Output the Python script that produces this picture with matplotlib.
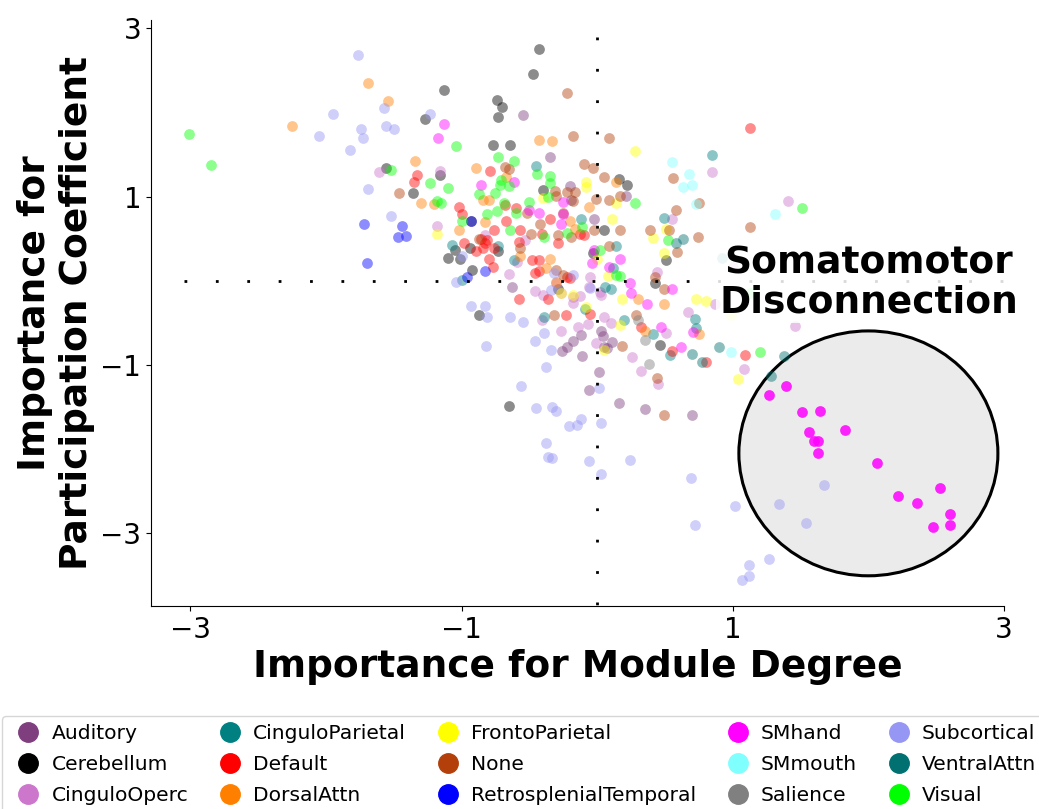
import matplotlib
matplotlib.use("Agg")
import matplotlib.pyplot as plt
import numpy as np
from matplotlib.lines import Line2D
from matplotlib.patches import Ellipse

# (module degree importance, participation coefficient importance) per node
AUDITORY = [(-0.55, 1.97), (-0.35, 1.47), (-0.20, 1.13), (-0.19, 0.96), (0.21, 1.01), (-0.02, 0.73),
            (-0.63, -0.07), (-0.26, -0.83), (-0.22, -0.79), (-0.18, -0.72), (-0.12, -0.64), (-0.11, -0.89),
            (0.03, -0.59), (0.04, -0.66), (0.05, -0.79), (0.01, -1.08), (-0.06, -1.30), (0.11, -0.73),
            (0.07, -0.80), (0.16, -1.45), (0.35, -1.52), (0.70, -1.60)]
CEREBELLUM = [(-0.43, 2.76), (-0.47, 2.46), (-1.13, 2.27), (-0.74, 2.15), (-0.70, 2.07), (-0.73, 1.95),
              (-1.27, 1.92), (-0.77, 1.61), (-0.64, 1.62), (-1.56, 1.34), (-1.16, 1.26), (-1.36, 1.05),
              (-0.40, 1.08), (0.16, 1.21), (0.22, 1.14), (-0.93, 0.71), (0.05, 0.60), (0.51, 0.25),
              (-1.05, 0.37), (-1.10, 0.27), (-1.01, 0.26), (-0.94, 0.39), (-0.92, 0.13), (-0.73, 0.36),
              (-0.29, -0.10), (-0.03, 0.33), (0.43, -0.03), (-0.87, -0.40), (-0.65, -1.49), (0.46, -0.76)]
CINGULO_OPERC = [(-1.61, 1.29), (-1.18, 0.65), (0.55, 0.74), (0.85, 1.29), (1.41, 0.95), (-0.65, 0.08),
                 (-0.59, 0.22), (-0.53, 0.48), (-0.46, -0.12), (-0.40, -0.17), (-0.30, -0.03), (-0.27, -0.15),
                 (-0.18, -0.19), (-0.13, -0.18), (-0.05, 0.04), (-0.06, -0.07), (0.02, -0.13), (0.03, -0.17),
                 (0.44, 0.11), (-0.41, -0.47), (-0.27, -0.60), (-0.14, -0.55), (-0.07, -0.51), (-0.18, -0.26),
                 (-0.01, -0.74), (0.05, -0.43), (0.10, -0.50), (0.26, -0.91), (0.32, -1.07), (0.45, -1.22),
                 (0.51, -0.62), (0.67, -0.37), (0.87, -0.28), (1.08, -1.05), (1.46, -0.54), (1.00, 0.17),
                 (-0.83, 0.54), (-1.16, 1.30)]
CINGULO_PARIETAL = [(-0.45, 1.36), (-0.12, 0.73), (0.49, 0.75), (0.85, 1.49), (-1.07, 0.43), (-0.73, 0.42),
                    (-0.61, 0.25), (0.06, -0.07), (0.10, -0.10), (0.14, 0.42), (0.12, 0.15), (-1.00, 0.01),
                    (-0.39, -0.43), (-0.09, -0.33), (0.20, -0.47), (0.41, -0.63), (0.54, -0.88), (0.72, -0.45),
                    (0.73, -0.56), (0.92, 0.27)]
DEFAULT = [(-1.33, 1.26), (-1.35, 1.18), (-0.79, 1.31), (-1.02, 0.88), (-1.00, 0.80), (-0.76, 0.60),
           (-0.67, 0.71), (-0.68, 0.90), (-0.60, 0.87), (-0.35, 0.73), (-0.13, 0.56), (-0.10, 0.55),
           (-0.98, 0.45), (-0.89, 0.36), (-0.86, 0.50), (-0.83, 0.45), (-0.81, 0.48), (-0.84, 0.39),
           (-0.80, 0.26), (-0.77, 0.17), (-0.76, 0.39), (-0.58, 0.46), (-0.48, 0.25), (-0.43, 0.25),
           (-0.46, 0.09), (-0.43, 0.12), (-0.58, -0.22), (-0.36, -0.21), (-0.22, 0.05), (-0.20, 0.03),
           (-0.57, 0.60), (-0.41, 0.56), (-0.29, 0.45), (-0.23, -0.41), (-0.05, -0.39), (0.32, -0.55),
           (0.55, -0.83), (0.80, -0.97), (1.09, -0.88), (1.13, 1.82)]
DORSAL_ATTN = [(-2.25, 1.84), (-1.69, 2.35), (-1.54, 2.14), (-1.34, 1.43), (-0.43, 1.67), (-0.33, 1.66),
               (-0.89, 1.34), (-0.67, 1.24), (-1.30, 0.92), (-1.20, 0.91), (-0.84, 0.96), (-0.80, 0.96),
               (-1.02, 0.61), (-0.83, 0.70), (-0.20, 0.71), (-0.16, 0.62), (-0.06, 0.88), (0.14, 1.18),
               (-0.57, 0.29), (-0.35, 0.26), (-0.38, 0.15), (-0.30, -0.01), (0.35, -0.59), (0.75, -0.63),
               (0.49, -0.28), (0.30, -0.21)]
FRONTO_PARIETAL = [(0.28, 1.54), (-1.18, 0.56), (-0.40, 0.99), (-0.08, 1.17), (-0.08, 1.11), (0.14, 0.93),
                   (0.11, 0.73), (0.41, 0.51), (0.51, 0.62), (0.49, 0.33), (0.00, 0.26), (0.08, 0.06),
                   (-0.27, -0.15), (-0.18, -0.17), (0.18, -0.22), (0.73, -0.21), (0.80, -0.24), (-0.08, -0.31),
                   (0.17, -0.53), (0.05, -0.82), (1.04, -1.17), (0.99, -0.41)]
NONE = [(-1.46, 1.05), (-0.22, 2.23), (-0.18, 1.72), (0.09, 1.70), (-0.10, 1.39), (-0.03, 1.34),
        (-0.68, 1.35), (-0.65, 1.33), (-0.52, 0.81), (-0.31, 1.07), (-0.30, 1.01), (-0.22, 1.06),
        (-0.16, 1.06), (-0.18, 0.95), (-0.01, 0.97), (0.05, 1.23), (0.09, 0.96), (0.17, 1.01),
        (-0.42, 0.68), (-0.25, 0.81), (-0.29, 0.54), (-0.19, 0.52), (-0.02, 0.60), (0.17, 0.61),
        (0.39, 0.61), (0.58, 0.84), (0.53, 0.61), (0.59, 0.34), (0.56, 1.22), (0.75, 0.92),
        (0.74, 0.52), (-0.87, 0.50), (-0.57, 0.39), (-0.25, 0.07), (-0.30, 0.13), (0.09, 0.42),
        (0.43, 0.04), (0.49, -0.10), (-0.32, -0.41), (-0.49, 0.56), (0.18, -0.77), (0.44, -1.16),
        (0.49, -1.60), (0.29, -0.41), (1.13, 0.64)]
RETRO_TEMPORAL = [(-1.72, 0.67), (-1.70, 0.21), (-1.47, 0.52), (-1.41, 0.53), (-1.44, 0.65), (-0.93, 0.71),
                  (-0.83, 0.12), (-0.96, 0.04)]
SM_HAND = [(-1.13, 1.86), (-1.17, 1.70), (-0.86, 1.14), (-0.61, 1.18), (-0.50, 0.84), (-0.43, 0.81),
           (-0.25, 0.94), (-0.27, 0.68), (-0.25, 0.79), (-0.02, 0.37), (-0.04, 0.21), (0.17, 0.26),
           (0.09, 0.17), (0.24, -0.03), (0.25, -0.14), (0.37, -0.27), (0.55, -0.10), (0.47, -0.55),
           (0.62, -0.79), (0.71, -0.61)]
# SMhand nodes inside the disconnection circle
SM_HAND_HIGHLIGHT = [(1.39, -1.25), (1.27, -1.36), (1.51, -1.56), (1.64, -1.55), (1.56, -1.80), (1.60, -1.90),
                     (1.63, -1.90), (1.63, -2.05), (1.83, -1.77), (2.06, -2.16), (2.22, -2.56), (2.36, -2.64),
                     (2.53, -2.46), (2.60, -2.77), (2.60, -2.90), (2.48, -2.92)]
SM_MOUTH = [(0.55, 1.41), (0.68, 1.27), (0.63, 1.11), (0.70, 1.14), (0.73, 0.91), (1.31, 0.79), (0.99, -0.84)]
SALIENCE = [(0.38, -0.99), (0.35, -0.70), (0.30, -0.47)]
SUBCORTICAL = [(-2.05, 1.72), (-1.95, 1.98), (-1.82, 1.55), (-1.76, 2.69), (-1.74, 1.80), (-1.73, 1.70),
               (-1.69, 1.09), (-1.57, 2.06), (-1.56, 1.84), (-1.50, 1.80), (-1.52, 0.77), (-1.23, 1.98),
               (-1.00, 0.29), (-1.04, -0.01), (-0.32, 0.09), (-0.18, 0.07), (-0.34, -0.11), (-0.05, -0.08),
               (-0.93, -0.30), (-0.83, -0.30), (-0.81, -0.43), (-0.82, -0.77), (-0.64, -0.43), (-0.55, -0.49),
               (-0.39, -0.62), (-0.46, -0.71), (-0.34, -0.82), (-0.38, -1.02), (-0.56, -1.25), (0.01, -1.27),
               (-0.45, -1.51), (-0.33, -1.50), (-0.30, -1.55), (-0.21, -1.73), (-0.15, -1.71), (-0.12, -1.64),
               (0.03, -1.69), (-0.38, -1.93), (-0.36, -2.09), (-0.33, -2.10), (-0.06, -2.14), (0.03, -2.29),
               (0.24, -2.13), (0.69, -2.34), (0.72, -2.90), (1.67, -2.43), (1.34, -2.65), (1.54, -2.88),
               (1.02, -2.68), (1.27, -3.30), (1.12, -3.38), (1.12, -3.51), (1.07, -3.55)]
VENTRAL_ATTN = [(0.63, 0.50), (0.58, 0.45), (0.70, -0.87), (0.77, -0.96), (0.90, -0.79), (1.38, -0.89),
                (1.28, -1.13)]
VISUAL = [(-3.01, 1.75), (-2.85, 1.375), (-1.52, 1.32), (-1.04, 1.60), (-0.73, 1.47), (-0.61, 1.43),
          (-0.44, 1.27), (-0.35, 1.25), (-0.35, 1.16), (-1.23, 1.16), (-1.10, 1.10), (-1.18, 0.95),
          (-1.15, 0.93), (-0.87, 1.03), (-0.75, 1.05), (-0.72, 1.14), (-0.71, 1.20), (-0.65, 1.13),
          (-0.81, 0.79), (-0.74, 0.83), (-1.00, 0.71), (-0.69, 0.92), (-0.60, 0.81), (-0.50, 0.94),
          (-0.36, 1.00), (0.28, 0.93), (-0.22, 0.57), (-0.11, 0.64), (-0.64, 0.60), (-0.39, 0.52),
          (0.02, 0.37), (0.14, 0.07), (0.17, 0.06), (0.52, 0.49), (1.51, 0.87), (1.20, -0.85), (1.13, -0.15)]

NETWORKS = ["Auditory", "Cerebellum", "CinguloOperc", "CinguloParietal", "Default", "DorsalAttn",
            "FrontoParietal", "None", "RetrosplenialTemporal", "SMhand", "SMmouth", "Salience",
            "Subcortical", "VentralAttn", "Visual"]
COLORS = ["#7f3f7f", "#000000", "#cc77cc", "#008080", "#ff0000", "#ff8000",
          "#ffff00", "#b3400a", "#0000ff", "#ff00ff", "#80ffff", "#808080",
          "#9696f5", "#007070", "#00ff00"]
POINTS = [AUDITORY, CEREBELLUM, CINGULO_OPERC, CINGULO_PARIETAL, DEFAULT, DORSAL_ATTN,
          FRONTO_PARIETAL, NONE, RETRO_TEMPORAL, SM_HAND, SM_MOUTH, SALIENCE,
          SUBCORTICAL, VENTRAL_ATTN, VISUAL]


def main() -> None:
    fig = plt.figure(figsize=(10.39, 8.09), dpi=100)
    ax = fig.add_axes([151 / 1039, 1 - 606 / 809, 853 / 1039, 586 / 809])

    # highlighted region
    ax.add_patch(Ellipse((2.0, -2.05), 1.91, 2.91, facecolor="#ebebeb",
                         edgecolor="black", linewidth=2.2, zorder=1))

    for name, color, pts in zip(NETWORKS, COLORS, POINTS):
        xy = np.array(pts)
        ax.scatter(xy[:, 0], xy[:, 1], s=60, color=color, alpha=0.45, linewidths=0, zorder=2)
    hl = np.array(SM_HAND_HIGHLIGHT)
    ax.scatter(hl[:, 0], hl[:, 1], s=60, color="#ff00ff", alpha=0.85, linewidths=0, zorder=2)

    dots = (0, (1, 10.3))
    ax.plot([-3.05, 3.0], [0, 0], color="black", linewidth=2, linestyle=dots, zorder=3)
    ax.plot([0, 0], [2.9, -3.9], color="black", linewidth=2, linestyle=dots, zorder=3)

    ax.text(2.0, -0.03, "Somatomotor\nDisconnection", ha="center", va="center",
            fontsize=27, fontweight="bold", linespacing=1.1, zorder=4,
            bbox=dict(facecolor="white", alpha=0.85, edgecolor="none", pad=2))

    ax.set_xlim(-3.29, 3.0)
    ax.set_ylim(-3.864, 3.1)
    ax.set_xticks([-3, -1, 1, 3])
    ax.set_yticks([-3, -1, 1, 3])
    ax.tick_params(labelsize=20)
    ax.spines["top"].set_visible(False)
    ax.spines["right"].set_visible(False)
    ax.set_xlabel("Importance for Module Degree", fontsize=27, fontweight="bold")
    ax.set_ylabel("Importance for\nParticipation Coefficient", fontsize=27, fontweight="bold")

    handles = [Line2D([0], [0], marker="o", linestyle="", markersize=14,
                      markerfacecolor=c, markeredgecolor=c) for c in COLORS]
    fig.legend(handles, NETWORKS, loc="upper left", bbox_to_anchor=(2 / 1039, 1 - 716 / 809),
               ncol=5, fontsize=14.6, handlelength=1.8, handletextpad=0.25,
               columnspacing=1.15, labelspacing=0.58, borderaxespad=0)

    fig.savefig("out.png", dpi=100)


if __name__ == "__main__":
    main()
